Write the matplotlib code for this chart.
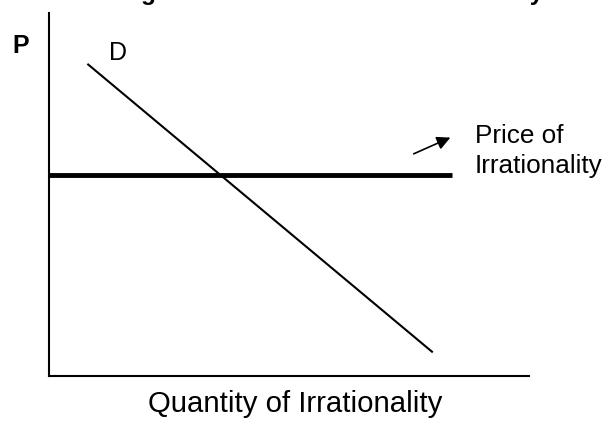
import matplotlib
matplotlib.use("Agg")
import matplotlib.pyplot as plt

plt.rcParams['font.family'] = ['Liberation Sans', 'DejaVu Sans']

# schematic values (arbitrary units, axes run 0..10)
demand_q = [0.8, 8.0]
demand_p = [8.6, 0.65]
price_level = 5.55
price_q = [0.0, 8.4]
arrow_from = (7.55, 6.09)
arrow_to = (8.42, 6.60)

title = "Diagram 1: The Market for Irrationality"
xlabel = "Quantity of Irrationality"
ylabel = "P"
curve_label = "D"
price_label = "Price of\nIrrationality"

fig = plt.figure(figsize=(6.08, 4.21), dpi=100, facecolor='white')
ax = fig.add_axes([0.0806, 0.107, 0.789, 0.862])
ax.set_xlim(0, 10)
ax.set_ylim(0, 10)
ax.spines['top'].set_visible(False)
ax.spines['right'].set_visible(False)
ax.spines['left'].set_linewidth(1.5)
ax.spines['bottom'].set_linewidth(1.5)
ax.set_xticks([])
ax.set_yticks([])

ax.plot(demand_q, demand_p, color='black', lw=1.5, solid_capstyle='butt')
ax.plot(price_q, [price_level, price_level], color='black', lw=3.5,
        solid_capstyle='butt')

ax.text(1.44, 8.9, curve_label, fontsize=18, ha='center', va='center')
ax.annotate('', xy=arrow_to, xytext=arrow_from,
            arrowprops=dict(arrowstyle='-|>', color='black', lw=1.2,
                            mutation_scale=20))
ax.text(8.875, 6.2, price_label, fontsize=18.8, ha='left', va='center',
        linespacing=1.3)

fig.text(21 / 608, 1 - 46 / 421, ylabel, fontsize=18, fontweight='bold',
         ha='center', va='center')
fig.text(295 / 608, 1 - 404 / 421, xlabel, fontsize=21.2,
         ha='center', va='center')
fig.text(103 / 608, 1 + 0.5 / 421, title, fontsize=17.6, fontweight='bold',
         ha='left', va='baseline')

fig.savefig('out.png', dpi=100, facecolor='white')
